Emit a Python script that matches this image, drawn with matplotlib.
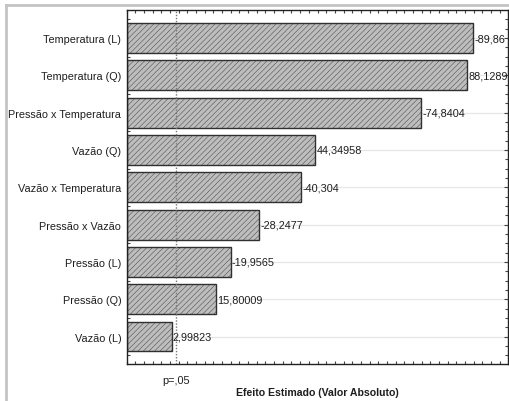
import matplotlib
matplotlib.use("Agg")
import matplotlib.pyplot as plt
from matplotlib.lines import Line2D
from matplotlib.ticker import MultipleLocator

plt.rcParams['font.family'] = ['Liberation Sans', 'DejaVu Sans']
plt.rcParams['hatch.color'] = '#b5b5b5'
plt.rcParams['hatch.linewidth'] = 0.3

# Standardized effects (Pareto chart), ordered from largest to smallest
effects = ["Temperatura (L)", "Temperatura (Q)", "Pressão x Temperatura",
           "Vazão (Q)", "Vazão x Temperatura", "Pressão x Vazão",
           "Pressão (L)", "Pressão (Q)", "Vazão (L)"]
estimates = [-89.86, 88.1289, -74.8404, 44.34958, -40.304, -28.2477,
             -19.9565, 15.80009, 2.99823]
t_critical = 4.303   # p = .05
x_min, x_max = -10, 100

fig = plt.figure(figsize=(5.10, 4.02), dpi=100)
ax = fig.add_axes([126.7 / 510, 1 - 365.3 / 402, (508.3 - 126.7) / 510, (365.3 - 11.3) / 402])

ypos = list(range(len(effects)))
absvals = [abs(v) for v in estimates]

for y in ypos:
    ax.axhline(y, color='#e6e6e6', lw=0.9, zorder=0)

ax.barh(ypos, [a - x_min for a in absvals], left=x_min, height=0.8,
        color='#bdbdbd', edgecolor='#303030', linewidth=1.0, hatch='//////', zorder=2)

for y, a, v in zip(ypos, absvals, estimates):
    ax.text(a + 0.3, y, str(v).replace('.', ','), va='center', ha='left',
            fontsize=7.8, color='#1e1e1e', zorder=3)

ax.axvline(t_critical, color='#777777', lw=1.0, ls=(0, (1, 1.2)), zorder=3)

ax.set_xlim(x_min, x_max)
ax.set_ylim(len(effects) - 0.255, -0.745)
ax.set_yticks(ypos)
ax.set_yticklabels(effects, fontsize=7.8, color='#1e1e1e')
ax.yaxis.set_minor_locator(MultipleLocator(0.25))
ax.set_xticks([t_critical])
ax.set_xticklabels(['p=,05'], fontsize=7.8, color='#1e1e1e')
ax.xaxis.set_minor_locator(MultipleLocator(2.5))
ax.tick_params(axis='both', which='both', direction='in', top=True, right=True,
               color='#444444')
ax.tick_params(axis='both', which='major', length=3, width=0.8, pad=4)
ax.tick_params(axis='both', which='minor', length=2, width=0.8)
ax.tick_params(axis='x', which='major', length=0, pad=8)
for s in ax.spines.values():
    s.set_color('#222222')
    s.set_linewidth(1.0)

fig.text((126.7 + 508.3) / 2 / 510, 1 - 393 / 402, 'Efeito Estimado (Valor Absoluto)',
         ha='center', va='center', fontsize=7.6, fontweight='bold', color='#1e1e1e')

# outer frame (top and left edges)
fig.add_artist(Line2D([6 / 510, 1], [1 - 6 / 402, 1 - 6 / 402], transform=fig.transFigure,
                      color='#c4c4c4', lw=2))
fig.add_artist(Line2D([6 / 510, 6 / 510], [0, 1 - 6 / 402], transform=fig.transFigure,
                      color='#c4c4c4', lw=2))

fig.savefig('out.png', dpi=100)
